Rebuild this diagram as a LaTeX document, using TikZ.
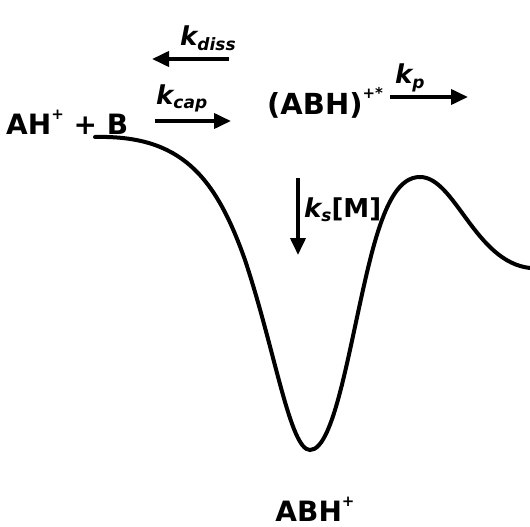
\documentclass[tikz,border=0pt]{standalone}
\usepackage{fontspec}
\setmainfont{DejaVu Sans}
\usetikzlibrary{arrows.meta}
\newcommand{\mysup}[1]{\raisebox{0.95ex}{\fontsize{15}{15}\selectfont #1}}
\newcommand{\mysub}[1]{\raisebox{-0.35ex}{\fontsize{17}{17}\selectfont #1}}
\begin{document}
\begin{tikzpicture}[x=1pt,y=-1pt,
  lbl/.style={inner sep=0pt,font=\fontsize{28}{30}\selectfont\bfseries},
  klbl/.style={inner sep=0pt,font=\fontsize{26}{28}\selectfont\bfseries\itshape},
  rx/.style={line width=3.8pt,-{Triangle[length=17pt,width=15pt]}},
  curve/.style={line width=4pt,line cap=round}]
\useasboundingbox (0,0) rectangle (530,527);
\node[lbl,anchor=base west] (ahb) at (6,134) {AH\mysup{+} + B};
\node[lbl,anchor=base west,font=\fontsize{29}{31}\selectfont\bfseries] (abhs) at (267,114) {(ABH)\mysup{+*}};
\node[lbl,anchor=base] (abh) at (315,521) {ABH\mysup{+}};
\coordinate (d1) at (229,59); \coordinate (d2) at (152,59);
\coordinate (c1) at (155,121); \coordinate (c2) at (231,121);
\coordinate (p1) at (390,97); \coordinate (p2) at (468,97);
\coordinate (s1) at (298,178); \coordinate (s2) at (298,255);
\draw[rx] (d1) -- (d2);
\draw[rx] (c1) -- (c2);
\draw[rx] (p1) -- (p2);
\draw[rx] (s1) -- (s2);
\node[klbl,anchor=base west] (kd) at (180,46) {k\mysub{diss}};
\node[klbl,anchor=base west] (kc) at (156,104) {k\mysub{cap}};
\node[klbl,anchor=base west] (kp) at (395,84) {k\mysub{p}};
\node[anchor=base west,inner sep=0pt] (ks) at (304,217) {{\fontsize{26}{28}\selectfont\bfseries\itshape k\mysub{s}}{\fontsize{26}{28}\selectfont\bfseries[M]}};
\draw[curve] (95,137) .. controls (180,135) and (215,175) .. (245,260)
  .. controls (275,350) and (290,450) .. (310,450)
  .. controls (335,450) and (350,340) .. (370,260)
  .. controls (385,200) and (400,177) .. (420,177)
  .. controls (455,177) and (475,262) .. (530,268);
\end{tikzpicture}
\end{document}
